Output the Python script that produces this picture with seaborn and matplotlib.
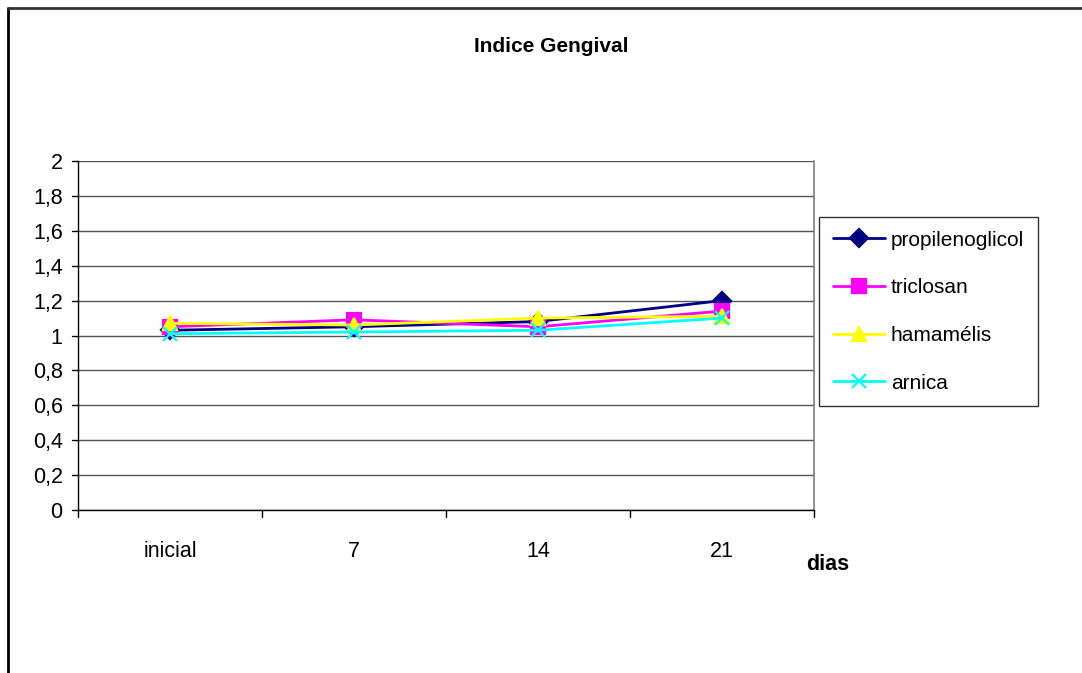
import matplotlib
matplotlib.use("Agg")
import matplotlib.pyplot as plt
from matplotlib.lines import Line2D
import seaborn as sns
import pandas as pd

# Índice gengival por grupo ao longo do tratamento
dias = ["inicial", "7", "14", "21"]
propilenoglicol = [1.03, 1.05, 1.08, 1.20]
triclosan = [1.05, 1.09, 1.05, 1.14]
hamamelis = [1.07, 1.06, 1.10, 1.11]
arnica = [1.01, 1.02, 1.03, 1.10]
y_ticks = [0, 0.2, 0.4, 0.6, 0.8, 1, 1.2, 1.4, 1.6, 1.8, 2]

series = {
    "propilenoglicol": propilenoglicol,
    "triclosan": triclosan,
    "hamamélis": hamamelis,
    "arnica": arnica,
}
df = pd.DataFrame(
    [(i, nome, v) for nome, vals in series.items() for i, v in enumerate(vals)],
    columns=["pos", "grupo", "valor"],
)

sns.set_style("white")
plt.rcParams["font.family"] = ["Liberation Sans", "DejaVu Sans"]
plt.rcParams["text.color"] = "black"
plt.rcParams["xtick.color"] = "black"
plt.rcParams["ytick.color"] = "black"

fig = plt.figure(figsize=(10.82, 6.73), dpi=100)
ax = fig.add_axes([78 / 1082, 1 - 510 / 673, (814 - 78) / 1082, (510 - 161) / 673])

palette = {"propilenoglicol": "#000080", "triclosan": "#FF00FF",
           "hamamélis": "#FFFF00", "arnica": "#00FFFF"}
markers = {"propilenoglicol": "D", "triclosan": "s", "hamamélis": "^", "arnica": "x"}

for nome in series:
    sub = df[df["grupo"] == nome]
    sns.lineplot(data=sub, x="pos", y="valor", color=palette[nome],
                 marker=markers[nome], linewidth=2, markersize=9.5,
                 markeredgewidth=1.6, markeredgecolor=palette[nome],
                 ax=ax, legend=False, sort=False)

ax.set_xlim(-0.5, 3.5)
ax.set_ylim(0, 2)
ax.set_yticks(y_ticks)
ax.set_yticklabels([f"{t:g}".replace(".", ",") for t in y_ticks])
ax.set_xticks(range(len(dias)))
ax.set_xticklabels(dias)
ax.tick_params(axis="both", labelsize=15.5, length=0, labelcolor="black")
ax.tick_params(axis="y", pad=11)
ax.tick_params(axis="x", pad=22)
ax.set_xlabel("")
ax.set_ylabel("")

# horizontal gridlines
ax.yaxis.grid(True, color="#555555", linewidth=1)
ax.xaxis.grid(False)
ax.set_axisbelow(True)

ax.spines["top"].set_visible(False)
ax.spines["right"].set_color("#808080")
ax.spines["right"].set_linewidth(1.2)
for s in ["left", "bottom"]:
    ax.spines[s].set_color("black")
    ax.spines[s].set_linewidth(1)

# tick marks: y ticks outward, x ticks at category boundaries below the axis
for t in y_ticks:
    ax.plot([-0.5 - 0.03, -0.5], [t, t], color="black", lw=1, clip_on=False)
for b in [-0.5, 0.5, 1.5, 2.5, 3.5]:
    ax.plot([b, b], [0, -0.04], color="black", lw=1, clip_on=False)

fig.text(551 / 1082, 1 - 47 / 673, "Indice Gengival", ha="center", va="center",
         fontsize=15, fontweight="bold", color="black")
fig.text(828 / 1082, 1 - 565 / 673, "dias", ha="center", va="center",
         fontsize=15.5, fontweight="bold", color="black")

handles = [Line2D([0], [0], color=palette[n], marker=markers[n], lw=2,
                  markersize=9.5, markeredgewidth=1.6, markeredgecolor=palette[n])
           for n in series]
leg = fig.legend(handles, list(series.keys()), loc="upper left",
                 bbox_to_anchor=(819 / 1082, 1 - 217 / 673), fontsize=15,
                 frameon=True, fancybox=False, edgecolor="black",
                 handlelength=2.5, labelspacing=1.38, borderpad=0.65,
                 handletextpad=0.3, borderaxespad=0)
leg.get_frame().set_linewidth(1)
for txt in leg.get_texts():
    txt.set_color("black")

# outer chart border
fig.add_artist(Line2D([8 / 1082, 8 / 1082], [0, 1 - 8 / 673], color="black", lw=2,
                      transform=fig.transFigure))
fig.add_artist(Line2D([8 / 1082, 1], [1 - 8 / 673, 1 - 8 / 673], color="#333333", lw=2,
                      transform=fig.transFigure))

fig.savefig("out.png", dpi=100)
